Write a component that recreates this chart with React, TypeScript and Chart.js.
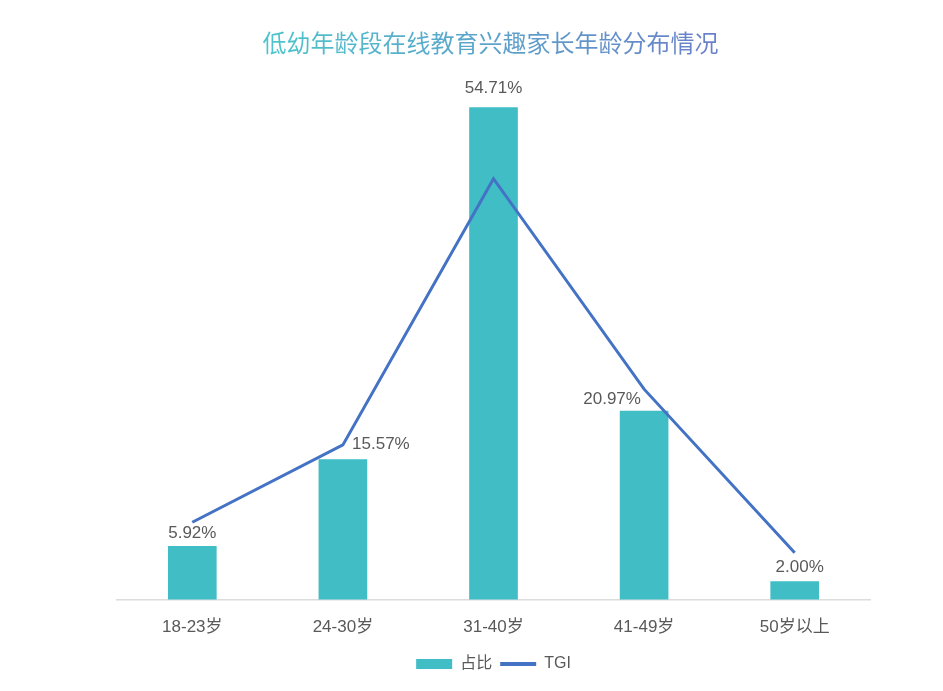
import React, { useEffect, useRef } from 'react';
import { Chart, registerables } from 'chart.js';

Chart.register(...registerables);

// chart data
const ageGroups = ['18-23岁', '24-30岁', '31-40岁', '41-49岁', '50岁以上'];
const shareValues = [5.92, 15.57, 54.71, 20.97, 2.0];
const tgiValues = [43, 86, 234, 117, 26];

const TITLE = '低幼年龄段在线教育兴趣家长年龄分布情况';
const BAR_COLOR = '#41bdc6';
const LINE_COLOR = '#4472c4';
const TEXT_COLOR = '#595959';
const FONT = "'Liberation Sans', 'Noto Sans CJK SC', sans-serif";

// where the value labels sit relative to the bar top (they dodge the line)
const labelDx = [0, 38, 0, -32, 5];
const labelDy = [13, 15, 19, 12, 14];

const barLabels = {
  id: 'barLabels',
  afterDatasetsDraw(chart: Chart) {
    const meta = chart.getDatasetMeta(0);
    const ctx = chart.ctx;
    ctx.save();
    ctx.font = `17px ${FONT}`;
    ctx.fillStyle = TEXT_COLOR;
    ctx.textAlign = 'center';
    ctx.textBaseline = 'middle';
    meta.data.forEach((bar: any, i: number) => {
      ctx.fillText(shareValues[i].toFixed(2) + '%', bar.x + labelDx[i], bar.y - labelDy[i]);
    });
    ctx.restore();
  },
};

const App: React.FC = () => {
  const canvasRef = useRef<HTMLCanvasElement>(null);
  const chartRef = useRef<Chart | null>(null);

  useEffect(() => {
    document.body.style.margin = '0';
    if (!canvasRef.current) return;
    if (chartRef.current) chartRef.current.destroy();

    chartRef.current = new Chart(canvasRef.current, {
      type: 'bar',
      data: {
        labels: ageGroups,
        datasets: [
          {
            type: 'bar',
            label: '占比',
            data: shareValues,
            backgroundColor: BAR_COLOR,
            barThickness: 48,
            yAxisID: 'y',
            order: 1,
          },
          {
            type: 'line',
            label: 'TGI',
            data: tgiValues,
            borderColor: LINE_COLOR,
            backgroundColor: LINE_COLOR,
            borderWidth: 3,
            pointRadius: 0,
            tension: 0,
            yAxisID: 'y1',
            order: 0,
          } as any,
        ],
      },
      options: {
        animation: false,
        responsive: false,
        layout: { padding: { left: 117, right: 73, top: 60, bottom: 9 } },
        scales: {
          x: {
            grid: { display: false },
            border: { display: true, color: '#dcdcdc', width: 1.5 },
            ticks: { color: TEXT_COLOR, font: { size: 17, family: FONT }, padding: 10 },
          },
          y: { display: false, min: 0, max: 60 },
          y1: { display: false, min: 0, max: 300 },
        },
        plugins: {
          tooltip: { enabled: false },
          legend: {
            position: 'bottom',
            labels: {
              usePointStyle: true,
              pointStyleWidth: 36,
              boxHeight: 10,
              color: TEXT_COLOR,
              font: { size: 16, family: FONT },
              padding: 8,
              sort: (a: any, b: any) => a.datasetIndex - b.datasetIndex,
              generateLabels: (chart: Chart) =>
                chart.data.datasets.map((ds: any, i: number) => ({
                  text: ds.label,
                  datasetIndex: i,
                  fillStyle: i === 0 ? BAR_COLOR : LINE_COLOR,
                  strokeStyle: i === 0 ? BAR_COLOR : LINE_COLOR,
                  lineWidth: i === 0 ? 0 : 4,
                  pointStyle: i === 0 ? 'rect' : 'line',
                  fontColor: TEXT_COLOR,
                  hidden: false,
                })),
            },
          },
        },
      },
      plugins: [barLabels],
    });

    return () => {
      if (chartRef.current) {
        chartRef.current.destroy();
        chartRef.current = null;
      }
    };
  }, []);

  return (
    <div style={{ position: 'relative', width: 943, height: 691, background: '#fff' }}>
      <div
        style={{
          position: 'absolute',
          left: 114,
          width: 753,
          top: 28,
          textAlign: 'center',
          fontFamily: "'Noto Sans CJK SC', sans-serif",
          fontSize: 24,
          lineHeight: '28px',
        }}
      >
        <span
          style={{
            background: 'linear-gradient(90deg, #4cc5cc, #6a7fc9)',
            WebkitBackgroundClip: 'text',
            backgroundClip: 'text',
            color: 'transparent',
          }}
        >
          {TITLE}
        </span>
      </div>
      <canvas ref={canvasRef} width={943} height={691} />
    </div>
  );
};

export default App;
